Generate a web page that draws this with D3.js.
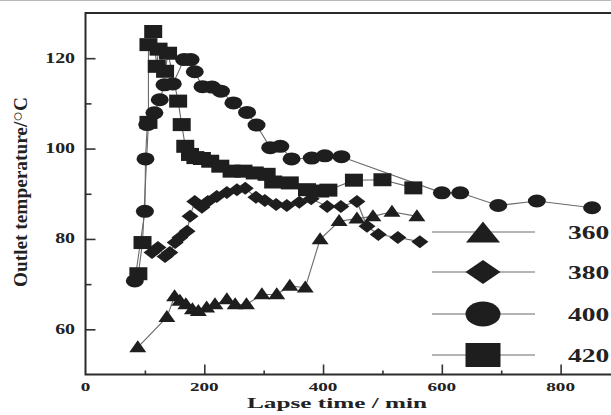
<!DOCTYPE html>
<html>
<head>
<meta charset="utf-8">
<script src="https://cdn.jsdelivr.net/npm/d3@7"></script>
<style>
  html, body { margin: 0; padding: 0; background: #fff; }
  svg { display: block; }
  text { font-family: "Liberation Serif", "Times New Roman", serif; font-weight: bold; fill: #222; }
</style>
</head>
<body>
<svg id="chart" width="611" height="415"></svg>
<script>
// Outlet temperature over elapsed time, one series per inlet temperature
const series = ["360", "380", "400", "420"];

const time360 = [88,137,150,159,169,180,190,204,218,238,252,271,297,322,344,370,395,427,457,484,516,558];
const temp360 = [56.0,62.7,67.3,66.3,65.5,64.4,64.0,64.8,65.5,66.6,65.5,65.5,67.7,67.7,69.6,69.2,79.9,83.9,84.5,85.0,86.0,85.0];

const time380 = [112,122,134,142,151,159,171,176,184,196,206,221,238,255,269,287,302,321,339,360,380,407,430,457,474,493,526,563];
const temp380 = [77.0,78.1,76.1,77.0,79.2,80.3,81.7,85.0,88.3,87.0,88.3,89.4,90.3,90.9,91.2,89.2,88.5,87.6,87.4,88.1,88.9,87.2,87.2,88.3,82.8,81.0,80.3,79.4];

const time400 = [83,100,101,104,116,125,133,147,166,177,184,197,213,228,249,272,288,311,328,347,381,403,431,600,631,695,760,853];
const temp400 = [70.7,86.1,97.7,105.3,107.9,110.8,114.1,114.3,119.7,119.7,117.0,113.7,113.6,112.7,110.1,108.0,105.2,100.2,100.5,97.7,97.9,98.4,98.2,90.2,90.2,87.4,88.4,86.9];

const time420 = [89,96,106,106,114,120,123,134,139,156,162,168,176,185,196,210,227,246,266,285,305,316,344,373,395,409,452,500,552];
const temp420 = [72.3,79.2,105.8,123.0,125.9,118.2,122.0,117.1,121.1,110.5,105.3,100.5,98.7,98.0,97.8,97.2,96.1,95.0,95.0,94.6,94.3,92.6,92.4,90.9,90.6,90.8,93.0,93.1,91.3];

const xMajor = [200, 400, 600, 800];
const xMinor = [100, 300, 500, 700];
const xLabels = [0, 200, 400, 600, 800];
const yMajor = [60, 80, 100, 120];
const yMinor = [70, 90, 110];

const xTitle = "Lapse time / min";
const yTitle = "Outlet temperature/";

const svg = d3.select("#chart");
const M = { left: 85.5, top: 13, right: 620, bottom: 374.5 };
const x = d3.scaleLinear().domain([0, 900]).range([M.left, M.right]);
const y = d3.scaleLinear().domain([50, 130]).range([M.bottom, M.top]);

const ink = "#1e1e1e";
const lineColor = "#6a6a6a";
const stretch = 1.42; // glyphs drawn wide

// faint rule along the top edge
svg.append("line").attr("x1", 0).attr("x2", 611).attr("y1", 0.5).attr("y2", 0.5)
  .attr("stroke", "#b8b8b8").attr("stroke-width", 1);

// inward ticks
const axG = svg.append("g");
axG.append("g").attr("transform", `translate(${M.left},0)`)
  .call(d3.axisLeft(y).tickValues(yMajor).tickSize(-10).tickFormat(""));
axG.append("g").attr("transform", `translate(${M.left},0)`)
  .call(d3.axisLeft(y).tickValues(yMinor).tickSize(-6).tickFormat(""));
axG.append("g").attr("transform", `translate(0,${M.bottom})`)
  .call(d3.axisBottom(x).tickValues(xMajor).tickSize(-10).tickFormat(""));
axG.append("g").attr("transform", `translate(0,${M.bottom})`)
  .call(d3.axisBottom(x).tickValues(xMinor).tickSize(-4).tickFormat(""));
axG.selectAll(".domain").remove();
axG.selectAll(".tick line").attr("stroke", "#333").attr("stroke-width", 1.6);

// tick labels
svg.append("g").selectAll("text").data(yMajor).join("text")
  .attr("transform", d => `translate(75,${y(d) + 4.5}) scale(${stretch},1)`)
  .attr("text-anchor", "end").attr("font-size", 14).text(d => d);
svg.append("g").selectAll("text").data(xLabels).join("text")
  .attr("transform", d => `translate(${x(d)},391) scale(${stretch},1)`)
  .attr("text-anchor", "middle").attr("font-size", 13.5).text(d => d);

// axis titles
svg.append("text")
  .attr("transform", `translate(337,408) scale(1.4,1)`)
  .attr("text-anchor", "middle").attr("font-size", 15)
  .attr("textLength", 180 / 1.4).attr("lengthAdjust", "spacingAndGlyphs")
  .text(xTitle);

const yt = svg.append("text")
  .attr("transform", `translate(27,192) scale(1.4,1) rotate(-90)`)
  .attr("text-anchor", "middle").attr("font-size", 13)
  .attr("textLength", 190).attr("lengthAdjust", "spacingAndGlyphs");
yt.append("tspan").text(yTitle);
yt.append("tspan").attr("font-weight", "normal").attr("font-size", 12).attr("dy", -3).text("\u25CB");
yt.append("tspan").attr("dy", 3).text("C");

// marker shapes (centered at 0,0)
function markerPath(kind, w, h) {
  const p = d3.path();
  if (kind === "tri") {
    p.moveTo(0, -h * 0.6); p.lineTo(w / 2, h * 0.4); p.lineTo(-w / 2, h * 0.4); p.closePath();
  } else if (kind === "dia") {
    p.moveTo(0, -h / 2); p.lineTo(w / 2, 0); p.lineTo(0, h / 2); p.lineTo(-w / 2, 0); p.closePath();
  } else if (kind === "sq") {
    p.rect(-w / 2, -h / 2, w, h);
  }
  return p.toString();
}
function drawMarker(g, kind, cx, cy, w, h) {
  if (kind === "circ") {
    g.append("ellipse").attr("cx", cx).attr("cy", cy).attr("rx", w / 2).attr("ry", h / 2).attr("fill", ink);
  } else {
    g.append("path").attr("d", markerPath(kind, w, h))
      .attr("transform", `translate(${cx},${cy})`).attr("fill", ink);
  }
}

const sets = [
  { name: series[0], t: time360, v: temp360, kind: "tri", w: 17, h: 12, lw: 34, lh: 21 },
  { name: series[1], t: time380, v: temp380, kind: "dia", w: 17, h: 13, lw: 35, lh: 24 },
  { name: series[2], t: time400, v: temp400, kind: "circ", w: 18, h: 13, lw: 35, lh: 25 },
  { name: series[3], t: time420, v: temp420, kind: "sq", w: 18, h: 13, lw: 35, lh: 24 }
];

const plot = svg.append("g");
const line = d3.line().x(d => x(d[0])).y(d => y(d[1]));

sets.forEach(s => {
  const pts = s.t.map((t, i) => [t, s.v[i]]);
  plot.append("path").attr("d", line(pts)).attr("fill", "none")
    .attr("stroke", lineColor).attr("stroke-width", 1.1);
});
sets.forEach(s => {
  const g = plot.append("g");
  s.t.forEach((t, i) => drawMarker(g, s.kind, x(t), y(s.v[i]), s.w, s.h));
});

// legend
const legRows = [232, 272, 314, 355];
const leg = svg.append("g");
sets.forEach((s, i) => {
  const ly = legRows[i];
  leg.append("line").attr("x1", 432).attr("x2", 535).attr("y1", ly).attr("y2", ly)
    .attr("stroke", lineColor).attr("stroke-width", 1.1);
  drawMarker(leg, s.kind, 483, ly + (s.kind === "tri" ? 2 : 0), s.lw, s.lh);
  leg.append("text").attr("transform", `translate(568,${ly + 6.5}) scale(1.45,1)`)
    .attr("font-size", 19).text(s.name);
});

// frame
svg.append("rect").attr("x", M.left).attr("y", M.top)
  .attr("width", M.right - M.left).attr("height", M.bottom - M.top)
  .attr("fill", "none").attr("stroke", "#2a2a2a").attr("stroke-width", 2);
</script>
</body>
</html>
